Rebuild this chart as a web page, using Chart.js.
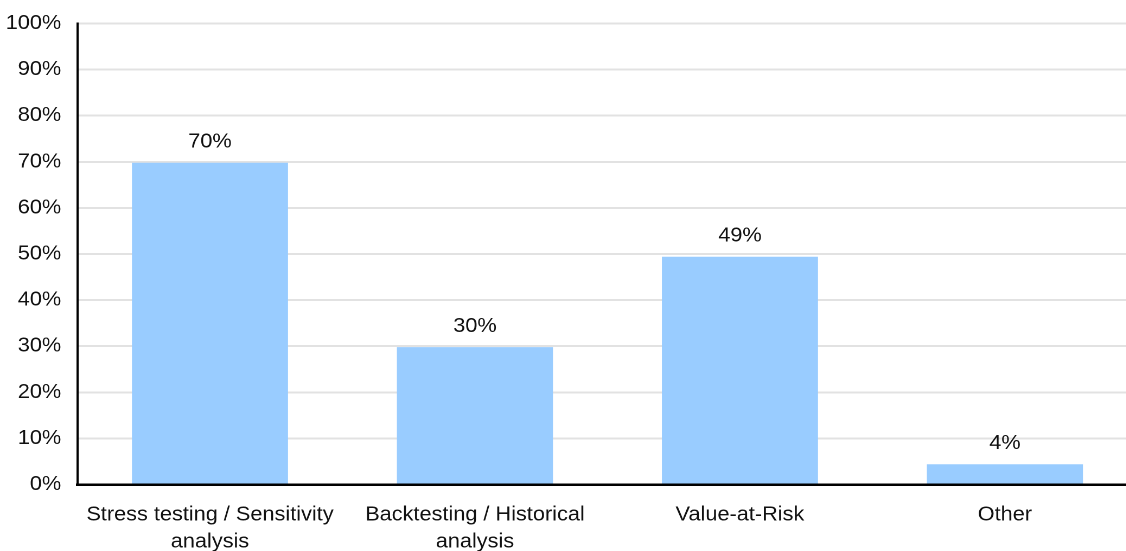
<!DOCTYPE html>
<html>
<head>
<meta charset="utf-8">
<script src="https://cdn.jsdelivr.net/npm/chart.js@4.4.1/dist/chart.umd.min.js"></script>
<style>
  html, body { margin: 0; padding: 0; background: #fff; overflow: hidden; width: 1126px; height: 551px; }
  #wrap { position: absolute; left: 0; top: 0; width: 1060px; height: 551px; transform: scaleX(1.085); transform-origin: 0 0; }
</style>
</head>
<body>
<div id="wrap"><canvas id="chart"></canvas></div>
<script>
// Risk measurement approaches (share of respondents, %)
const categories = [
  ["Stress testing / Sensitivity", "analysis"],
  ["Backtesting / Historical", "analysis"],
  "Value-at-Risk",
  "Other"
];
const shares = [69.8, 29.8, 49.4, 4.4];
const yMin = 0;
const yMax = 100;
const yStep = 10;

const FONT = '"Liberation Sans", Arial, Helvetica, sans-serif';
const TEXT = '#111111';

// Percentage labels centred above each bar
const valueLabels = {
  id: 'valueLabels',
  afterDatasetsDraw(chart) {
    const ctx = chart.ctx;
    const meta = chart.getDatasetMeta(0);
    ctx.save();
    ctx.font = '20px ' + FONT;
    ctx.fillStyle = TEXT;
    ctx.textAlign = 'center';
    ctx.textBaseline = 'alphabetic';
    meta.data.forEach((bar, i) => {
      ctx.fillText(Math.round(shares[i]) + '%', bar.x, bar.y - 15.3);
    });
    ctx.restore();
  }
};

new Chart(document.getElementById('chart'), {
  type: 'bar',
  data: {
    labels: categories,
    datasets: [{
      data: shares,
      backgroundColor: '#99CCFF',
      borderWidth: 0,
      barPercentage: 0.589,
      categoryPercentage: 1.0
    }]
  },
  options: {
    responsive: true,
    maintainAspectRatio: false,
    animation: false,
    devicePixelRatio: 2,
    layout: { padding: { top: 23.5, right: 11.7, bottom: 0, left: 0 } },
    plugins: {
      legend: { display: false },
      tooltip: { enabled: false }
    },
    scales: {
      x: {
        grid: { display: false, drawTicks: false },
        border: { display: true, color: '#000000', width: 2.5 },
        ticks: {
          color: TEXT,
          font: { family: FONT, size: 20, lineHeight: 1.35 },
          padding: 17,
          maxRotation: 0,
          autoSkip: false
        },
        afterFit(scale) { scale.height = 66.5; }
      },
      y: {
        min: yMin,
        max: yMax,
        grid: {
          drawTicks: false,
          lineWidth: 2,
          color: (c) => (c.tick && c.tick.value === 0) ? 'rgba(0,0,0,0)' : '#e2e2e2'
        },
        border: { display: true, color: '#000000', width: 2 },
        ticks: {
          stepSize: yStep,
          color: TEXT,
          font: { family: FONT, size: 20 },
          padding: 15,
          callback: (v) => v + '%'
        },
        afterFit(scale) {
          scale.width = 71.4;
          scale.paddingTop = 0;
          scale.paddingBottom = 0;
        }
      }
    }
  },
  plugins: [valueLabels]
});
</script>
</body>
</html>
